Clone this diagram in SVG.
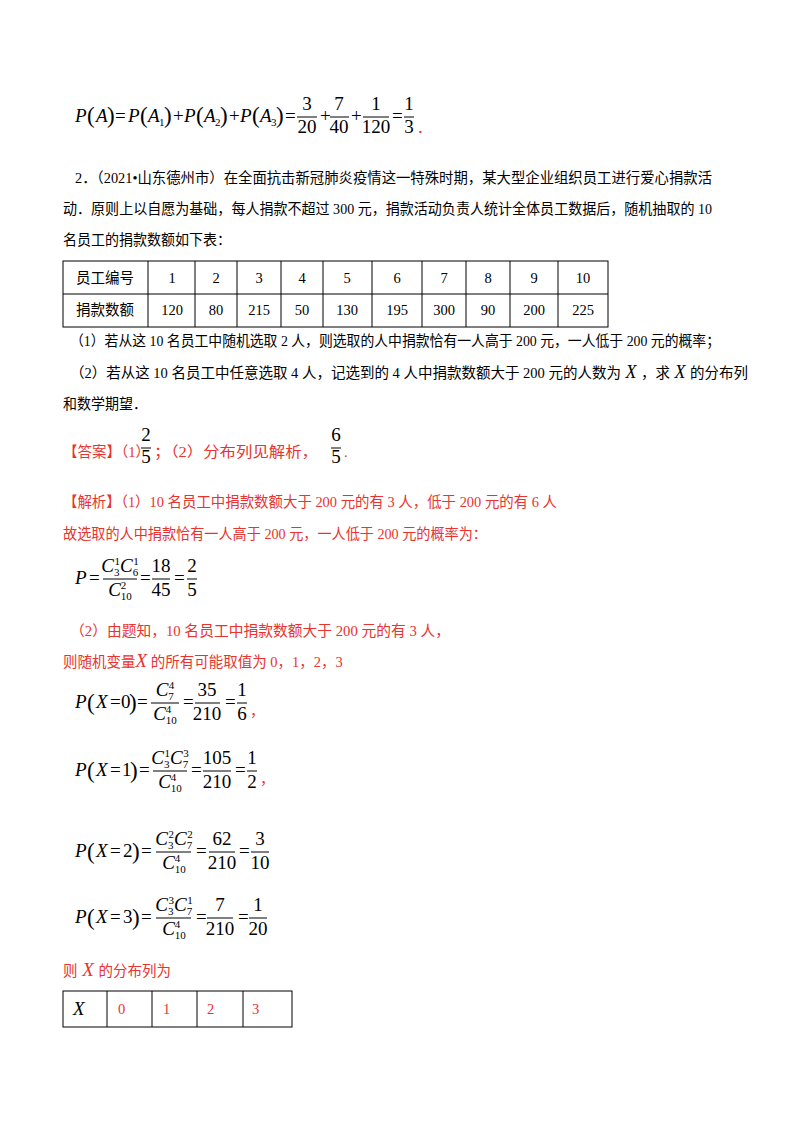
<svg xmlns="http://www.w3.org/2000/svg" width="800" height="1132" viewBox="0 0 800 1132">
<style>
.t{font-family:"Liberation Serif","Noto Sans CJK SC",serif;font-size:14.5px;fill:#000}
.r{fill:#e8332f}
.m{font-family:"Liberation Serif",serif;font-size:19px;fill:#000}
.i{font-style:italic}
.s{font-size:11px}
.p{font-size:23px}
.c{text-anchor:middle}
.ln{stroke:#000;stroke-width:1;fill:none}
</style>
<rect width="800" height="1132" fill="#fff"/>
<g id="eq1" class="m">
<text x="75" y="122" class="i">P</text><text x="87" y="123" class="p">(</text><text x="96" y="122" class="i">A</text><text x="107" y="123" class="p">)</text><text x="115" y="122">=</text>
<text x="128" y="122" class="i">P</text><text x="140" y="123" class="p">(</text><text x="148" y="122" class="i">A</text><text x="159" y="126" class="s">1</text><text x="164" y="123" class="p">)</text><text x="173" y="122">+</text>
<text x="184" y="122" class="i">P</text><text x="196" y="123" class="p">(</text><text x="204" y="122" class="i">A</text><text x="215" y="126" class="s">2</text><text x="220" y="123" class="p">)</text><text x="229" y="122">+</text>
<text x="240" y="122" class="i">P</text><text x="252" y="123" class="p">(</text><text x="260" y="122" class="i">A</text><text x="271" y="126" class="s">3</text><text x="276" y="123" class="p">)</text><text x="285" y="122">=</text>
<text x="307" y="110" class="c">3</text><text x="307" y="133" class="c">20</text><line x1="297" y1="117" x2="317" y2="117" class="ln"/>
<text x="320" y="122">+</text>
<text x="339" y="110" class="c">7</text><text x="339" y="133" class="c">40</text><line x1="330" y1="117" x2="349" y2="117" class="ln"/>
<text x="351" y="122">+</text>
<text x="376" y="110" class="c">1</text><text x="376" y="133" class="c">120</text><line x1="363" y1="117" x2="389" y2="117" class="ln"/>
<text x="392" y="122">=</text>
<text x="409" y="110" class="c">1</text><text x="409" y="133" class="c">3</text><line x1="404" y1="117" x2="414" y2="117" class="ln"/>
<text x="418" y="133" class="r">.</text>
</g>
<g id="problem" class="t">
<text x="75" y="183" textLength="637" lengthAdjust="spacingAndGlyphs">2．（2021•山东德州市）在全面抗击新冠肺炎疫情这一特殊时期，某大型企业组织员工进行爱心捐款活</text>
<text x="63" y="214" textLength="649" lengthAdjust="spacingAndGlyphs">动．原则上以自愿为基础，每人捐款不超过 300 元，捐款活动负责人统计全体员工数据后，随机抽取的 10</text>
<text x="63" y="245" textLength="168" lengthAdjust="spacingAndGlyphs">名员工的捐款数额如下表：</text>
</g>
<g id="table1" class="t">
<rect x="63" y="261" width="545" height="66" class="ln"/>
<line x1="63" y1="294" x2="608" y2="294" class="ln"/>
<path class="ln" d="M148 261V327M195 261V327M237 261V327M281 261V327M323 261V327M372 261V327M422 261V327M466 261V327M510 261V327M558 261V327"/>
<g class="c">
<text x="105" y="283">员工编号</text><text x="172" y="283">1</text><text x="216" y="283">2</text><text x="259" y="283">3</text><text x="302" y="283">4</text><text x="347" y="283">5</text><text x="397" y="283">6</text><text x="444" y="283">7</text><text x="488" y="283">8</text><text x="534" y="283">9</text><text x="583" y="283">10</text>
<text x="105" y="315">捐款数额</text><text x="172" y="315">120</text><text x="216" y="315">80</text><text x="259" y="315">215</text><text x="302" y="315">50</text><text x="347" y="315">130</text><text x="397" y="315">195</text><text x="444" y="315">300</text><text x="488" y="315">90</text><text x="534" y="315">200</text><text x="583" y="315">225</text>
</g>
</g>
<g id="questions" class="t">
<text x="70" y="346" textLength="650" lengthAdjust="spacingAndGlyphs">（1）若从这 10 名员工中随机选取 2 人，则选取的人中捐款恰有一人高于 200 元，一人低于 200 元的概率；</text>
<text x="70" y="378">（2）若从这 10 名员工中任意选取 4 人，记选到的 4 人中捐款数额大于 200 元的人数为<tspan class="i" font-size="18" font-family="Liberation Serif"> X </tspan>，求<tspan class="i" font-size="18" font-family="Liberation Serif"> X </tspan>的分布列</text>
<text x="63" y="409" textLength="84" lengthAdjust="spacingAndGlyphs">和数学期望．</text>
</g>
<g id="answer">
<text x="63" y="457" class="t r">【答案】（1）</text>
<text x="146" y="441" class="m c">2</text><text x="146" y="463" class="m c">5</text><line x1="141" y1="448" x2="151" y2="448" class="ln"/>
<text x="154" y="457" class="t r" textLength="164" lengthAdjust="spacingAndGlyphs">；（2）分布列见解析，</text>
<text x="336" y="441" class="m c">6</text><text x="336" y="463" class="m c">5</text><line x1="331" y1="448" x2="341" y2="448" class="ln"/>
<text x="344" y="457" class="t r">.</text>
</g>
<g id="analysis" class="t r">
<text x="63" y="507" textLength="494" lengthAdjust="spacingAndGlyphs">【解析】（1）10 名员工中捐款数额大于 200 元的有 3 人，低于 200 元的有 6 人</text>
<text x="63" y="539" textLength="424" lengthAdjust="spacingAndGlyphs">故选取的人中捐款恰有一人高于 200 元，一人低于 200 元的概率为：</text>
</g>
<g id="eqP" class="m">
<text x="75" y="584" class="i">P</text><text x="89" y="584">=</text>
<text x="120" y="572" class="c"><tspan class="i">C</tspan><tspan class="s" dy="4">3</tspan><tspan class="s" dx="-5" dy="-11">1</tspan><tspan class="i" dy="7">C</tspan><tspan class="s" dy="4">6</tspan><tspan class="s" dx="-5" dy="-11">1</tspan></text>
<text x="120" y="596" class="c"><tspan class="i">C</tspan><tspan class="s" dy="4">10</tspan><tspan class="s" dx="-11" dy="-11">2</tspan></text>
<line x1="103" y1="579" x2="137" y2="579" class="ln"/>
<text x="140" y="584">=</text>
<text x="161" y="572" class="c">18</text><text x="161" y="596" class="c">45</text><line x1="152" y1="579" x2="170" y2="579" class="ln"/>
<text x="174" y="584">=</text>
<text x="192" y="572" class="c">2</text><text x="192" y="596" class="c">5</text><line x1="187" y1="579" x2="197" y2="579" class="ln"/>
</g>
<g id="part2" class="t r">
<text x="70" y="636" textLength="380" lengthAdjust="spacingAndGlyphs">（2）由题知，10 名员工中捐款数额大于 200 元的有 3 人，</text>
<text x="63" y="667">则随机变量<tspan class="i" font-size="19" font-family="Liberation Serif">X</tspan> 的所有可能取值为 0，1，2，3</text>
</g>
<g id="eqX0" class="m">
<text x="75" y="708" class="i">P</text><text x="87" y="710" class="p">(</text><text x="96" y="708" class="i">X</text><text x="110" y="708">=</text><text x="121" y="708">0</text><text x="129" y="710" class="p">)</text><text x="137" y="708">=</text>
<text x="165" y="696" class="c"><tspan class="i">C</tspan><tspan class="s" dy="4">7</tspan><tspan class="s" dx="-5" dy="-11">4</tspan></text>
<text x="165" y="720" class="c"><tspan class="i">C</tspan><tspan class="s" dy="4">10</tspan><tspan class="s" dx="-11" dy="-11">4</tspan></text>
<line x1="151" y1="703" x2="179" y2="703" class="ln"/>
<text x="183" y="708">=</text>
<text x="207" y="696" class="c">35</text><text x="207" y="720" class="c">210</text><line x1="195" y1="703" x2="220" y2="703" class="ln"/>
<text x="225" y="708">=</text>
<text x="242" y="696" class="c">1</text><text x="242" y="720" class="c">6</text><line x1="237" y1="703" x2="247" y2="703" class="ln"/>
<text x="250" y="716" class="t r">，</text>
</g>
<g id="eqX1" class="m">
<text x="75" y="776" class="i">P</text><text x="87" y="778" class="p">(</text><text x="96" y="776" class="i">X</text><text x="110" y="776">=</text><text x="122" y="776">1</text><text x="130" y="778" class="p">)</text><text x="139" y="776">=</text>
<text x="170" y="764" class="c"><tspan class="i">C</tspan><tspan class="s" dy="4">3</tspan><tspan class="s" dx="-5" dy="-11">1</tspan><tspan class="i" dy="7">C</tspan><tspan class="s" dy="4">7</tspan><tspan class="s" dx="-5" dy="-11">3</tspan></text>
<text x="170" y="788" class="c"><tspan class="i">C</tspan><tspan class="s" dy="4">10</tspan><tspan class="s" dx="-11" dy="-11">4</tspan></text>
<line x1="153" y1="771" x2="187" y2="771" class="ln"/>
<text x="191" y="776">=</text>
<text x="217" y="764" class="c">105</text><text x="217" y="788" class="c">210</text><line x1="203" y1="771" x2="231" y2="771" class="ln"/>
<text x="235" y="776">=</text>
<text x="252" y="764" class="c">1</text><text x="252" y="788" class="c">2</text><line x1="247" y1="771" x2="257" y2="771" class="ln"/>
<text x="260" y="784" class="t r">，</text>
</g>
<g id="eqX2" class="m">
<text x="75" y="857" class="i">P</text><text x="87" y="859" class="p">(</text><text x="96" y="857" class="i">X</text><text x="110" y="857">=</text><text x="123" y="857">2</text><text x="132" y="859" class="p">)</text><text x="141" y="857">=</text>
<text x="174" y="845" class="c"><tspan class="i">C</tspan><tspan class="s" dy="4">3</tspan><tspan class="s" dx="-5" dy="-11">2</tspan><tspan class="i" dy="7">C</tspan><tspan class="s" dy="4">7</tspan><tspan class="s" dx="-5" dy="-11">2</tspan></text>
<text x="174" y="869" class="c"><tspan class="i">C</tspan><tspan class="s" dy="4">10</tspan><tspan class="s" dx="-11" dy="-11">4</tspan></text>
<line x1="156" y1="852" x2="191" y2="852" class="ln"/>
<text x="196" y="857">=</text>
<text x="222" y="845" class="c">62</text><text x="222" y="869" class="c">210</text><line x1="209" y1="852" x2="235" y2="852" class="ln"/>
<text x="239" y="857">=</text>
<text x="260" y="845" class="c">3</text><text x="260" y="869" class="c">10</text><line x1="251" y1="852" x2="269" y2="852" class="ln"/>
</g>
<g id="eqX3" class="m">
<text x="75" y="923" class="i">P</text><text x="87" y="925" class="p">(</text><text x="96" y="923" class="i">X</text><text x="110" y="923">=</text><text x="123" y="923">3</text><text x="132" y="925" class="p">)</text><text x="141" y="923">=</text>
<text x="174" y="911" class="c"><tspan class="i">C</tspan><tspan class="s" dy="4">3</tspan><tspan class="s" dx="-5" dy="-11">3</tspan><tspan class="i" dy="7">C</tspan><tspan class="s" dy="4">7</tspan><tspan class="s" dx="-5" dy="-11">1</tspan></text>
<text x="174" y="935" class="c"><tspan class="i">C</tspan><tspan class="s" dy="4">10</tspan><tspan class="s" dx="-11" dy="-11">4</tspan></text>
<line x1="156" y1="918" x2="191" y2="918" class="ln"/>
<text x="196" y="923">=</text>
<text x="220" y="911" class="c">7</text><text x="220" y="935" class="c">210</text><line x1="207" y1="918" x2="233" y2="918" class="ln"/>
<text x="238" y="923">=</text>
<text x="258" y="911" class="c">1</text><text x="258" y="935" class="c">20</text><line x1="249" y1="918" x2="267" y2="918" class="ln"/>
</g>
<g id="dist" class="t r">
<text x="63" y="976">则<tspan class="i" font-size="19" font-family="Liberation Serif" fill="#e8332f"> X </tspan>的分布列为</text>
</g>
<g id="table2">
<rect x="63" y="991" width="229" height="36" class="ln"/>
<path class="ln" d="M107 991V1027M152 991V1027M197 991V1027M243 991V1027"/>
<text x="73" y="1015" class="m i">X</text>
<g class="t r"><text x="118" y="1014">0</text><text x="163" y="1014">1</text><text x="207" y="1014">2</text><text x="252" y="1014">3</text></g>
</g>
</svg>
